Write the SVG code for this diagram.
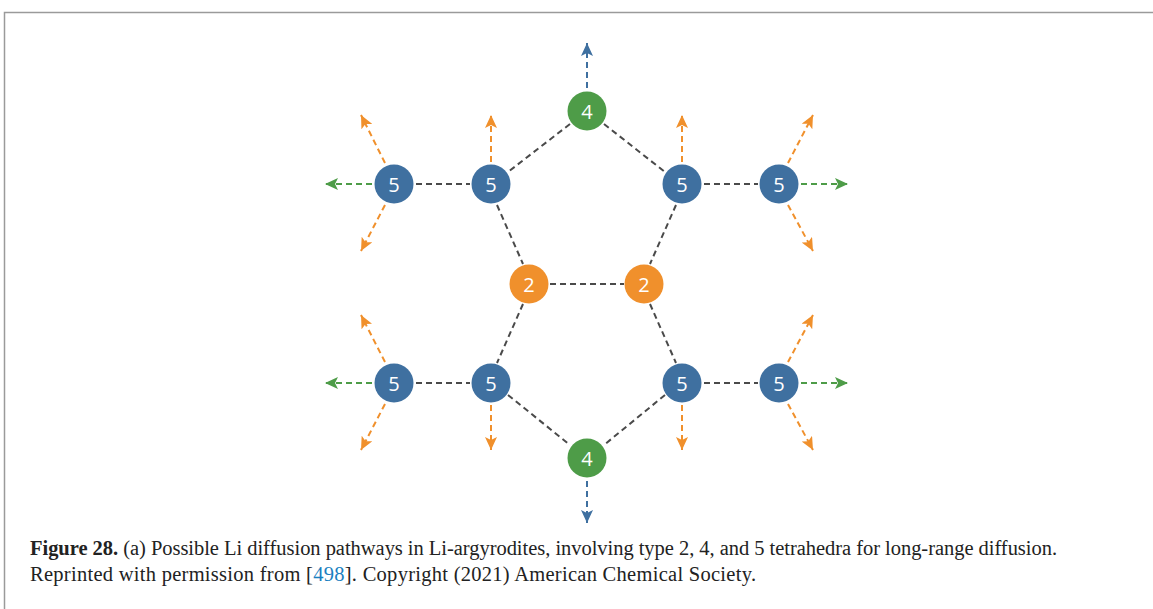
<svg xmlns="http://www.w3.org/2000/svg" width="1153" height="609" viewBox="0 0 1153 609">
<defs>
<style>
.c{stroke:#4a4a4a;stroke-width:2;stroke-dasharray:6 4;fill:none}
.ab{stroke:#3f70a0;stroke-width:2;stroke-dasharray:6 4;fill:none;marker-end:url(#mb)}
.ag{stroke:#4e9c48;stroke-width:2;stroke-dasharray:6 4;fill:none;marker-end:url(#mg)}
.ao{stroke:#f0902c;stroke-width:2;stroke-dasharray:6 4;fill:none;marker-end:url(#mo)}
.n5{fill:#3f70a0}
.n4{fill:#4e9c48}
.n2{fill:#f0902c}
.t{fill:#fff;font-family:"Open Sans","Noto Sans",sans-serif;font-size:20px;text-anchor:middle;dominant-baseline:central}
.cap{font-family:"Liberation Serif","Times New Roman",serif;font-size:20.5px;fill:#222}
</style>
<marker id="mb" markerUnits="userSpaceOnUse" markerWidth="14" markerHeight="12" viewBox="0 0 14 12" refX="13" refY="6" orient="auto"><path d="M0,0 L13,6 L0,12 L3,6 z" fill="#3f70a0"/></marker>
<marker id="mg" markerUnits="userSpaceOnUse" markerWidth="14" markerHeight="12" viewBox="0 0 14 12" refX="13" refY="6" orient="auto"><path d="M0,0 L13,6 L0,12 L3,6 z" fill="#4e9c48"/></marker>
<marker id="mo" markerUnits="userSpaceOnUse" markerWidth="14" markerHeight="12" viewBox="0 0 14 12" refX="13" refY="6" orient="auto"><path d="M0,0 L13,6 L0,12 L3,6 z" fill="#f0902c"/></marker>
</defs>
<rect width="1153" height="609" fill="#fff"/>
<path d="M4.5,609 V12.5 H1153" fill="none" stroke="#9a9a9a" stroke-width="1.5"/>
<g id="connectors">
<line class="c" x1="570" y1="124" x2="508" y2="172"/>
<line class="c" x1="604" y1="124" x2="665" y2="172"/>
<line class="c" x1="416" y1="184" x2="470" y2="184"/>
<line class="c" x1="704" y1="184" x2="758" y2="184"/>
<line class="c" x1="497" y1="205" x2="523" y2="264"/>
<line class="c" x1="676" y1="205" x2="650" y2="264"/>
<line class="c" x1="550" y1="284" x2="624" y2="284"/>
<line class="c" x1="523" y1="304" x2="497" y2="363"/>
<line class="c" x1="650" y1="304" x2="676" y2="363"/>
<line class="c" x1="416" y1="383" x2="470" y2="383"/>
<line class="c" x1="704" y1="383" x2="758" y2="383"/>
<line class="c" x1="508" y1="395" x2="570" y2="445"/>
<line class="c" x1="665" y1="395" x2="604" y2="445"/>
<line class="ab" x1="587" y1="88" x2="587" y2="43"/>
<line class="ab" x1="587" y1="481" x2="587" y2="523"/>
<line class="ag" x1="372" y1="184" x2="325" y2="184"/>
<line class="ag" x1="372" y1="383" x2="325" y2="383"/>
<line class="ag" x1="801" y1="184" x2="848" y2="184"/>
<line class="ag" x1="801" y1="383" x2="848" y2="383"/>
<line class="ao" x1="385" y1="163" x2="361" y2="115"/>
<line class="ao" x1="385" y1="205" x2="361" y2="251"/>
<line class="ao" x1="491" y1="162" x2="491" y2="115"/>
<line class="ao" x1="682" y1="162" x2="682" y2="115"/>
<line class="ao" x1="788" y1="163" x2="813" y2="115"/>
<line class="ao" x1="788" y1="205" x2="813" y2="251"/>
<line class="ao" x1="385" y1="362" x2="361" y2="315"/>
<line class="ao" x1="385" y1="404" x2="361" y2="450"/>
<line class="ao" x1="491" y1="405" x2="491" y2="450"/>
<line class="ao" x1="682" y1="405" x2="682" y2="450"/>
<line class="ao" x1="788" y1="362" x2="813" y2="315"/>
<line class="ao" x1="788" y1="404" x2="813" y2="450"/>
</g>
<g id="n4top"><circle class="n4" cx="587" cy="111" r="19.5"/><text class="t" x="587" y="111">4</text></g>
<g id="n5a"><circle class="n5" cx="394" cy="184" r="19.5"/><text class="t" x="394" y="184">5</text></g>
<g id="n5b"><circle class="n5" cx="491" cy="184" r="19.5"/><text class="t" x="491" y="184">5</text></g>
<g id="n5c"><circle class="n5" cx="682" cy="184" r="19.5"/><text class="t" x="682" y="184">5</text></g>
<g id="n5d"><circle class="n5" cx="779" cy="184" r="19.5"/><text class="t" x="779" y="184">5</text></g>
<g id="n2a"><circle class="n2" cx="529" cy="284" r="19.5"/><text class="t" x="529" y="284">2</text></g>
<g id="n2b"><circle class="n2" cx="644" cy="284" r="19.5"/><text class="t" x="644" y="284">2</text></g>
<g id="n5e"><circle class="n5" cx="394" cy="383" r="19.5"/><text class="t" x="394" y="383">5</text></g>
<g id="n5f"><circle class="n5" cx="491" cy="383" r="19.5"/><text class="t" x="491" y="383">5</text></g>
<g id="n5g"><circle class="n5" cx="682" cy="383" r="19.5"/><text class="t" x="682" y="383">5</text></g>
<g id="n5h"><circle class="n5" cx="779" cy="383" r="19.5"/><text class="t" x="779" y="383">5</text></g>
<g id="n4bot"><circle class="n4" cx="587" cy="458" r="19.5"/><text class="t" x="587" y="458">4</text></g>
<g id="caption">
<text class="cap" x="30" y="555" textLength="1027" lengthAdjust="spacing"><tspan font-weight="bold">Figure 28.</tspan> (a) Possible Li diffusion pathways in Li-argyrodites, involving type 2, 4, and 5 tetrahedra for long-range diffusion.</text>
<text class="cap" x="30" y="581" textLength="726" lengthAdjust="spacing">Reprinted with permission from [<tspan fill="#1a7fc1">498</tspan>]. Copyright (2021) American Chemical Society.</text>
</g>
</svg>
